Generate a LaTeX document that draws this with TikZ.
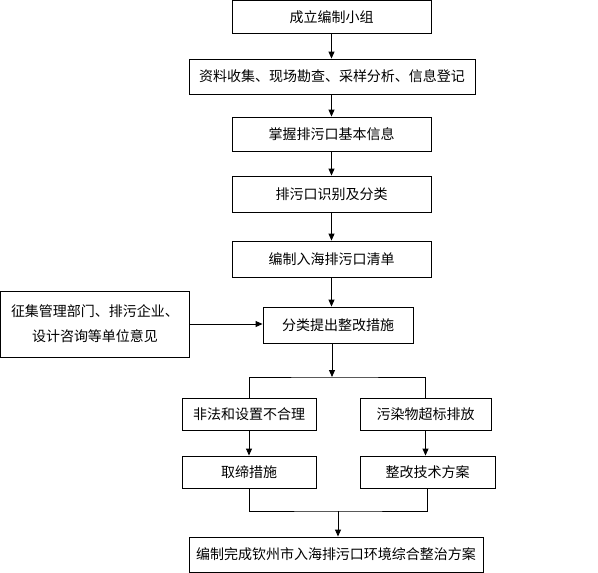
\documentclass[tikz,border=0pt]{standalone}
\usepackage{fontspec}
\usepackage{tikz}
\usetikzlibrary{arrows.meta, positioning}
\newfontfamily\cjk{Noto Sans CJK SC}

\begin{document}
\begin{tikzpicture}[
    x=1pt, y=-1pt,
    box/.style={draw, line width=0.9pt, minimum height=34pt, inner sep=0pt, font=\cjk\fontsize{14}{17}\selectfont},
    mainbox/.style={box, minimum width=199pt},
    sidebox/.style={box, minimum width=134pt, minimum height=32pt},
    flow/.style={line width=0.9pt, -{Triangle[length=7pt, width=6pt]}},
    link/.style={line width=0.9pt}
]
\useasboundingbox (0,0) rectangle (598,573);

% Main column
\node[mainbox, minimum height=33pt] (team) at (331.5,17) {成立编制小组};
\node[box, minimum width=286pt, minimum height=35pt] (survey) at (332,76.5) {资料收集、现场勘查、采样分析、信息登记};
\node[mainbox] (info) at (331.5,134) {掌握排污口基本信息};
\node[mainbox, minimum height=36pt] (classify) at (331.5,194) {排污口识别及分类};
\node[mainbox, minimum height=36pt] (list) at (331.5,259) {编制入海排污口清单};
\node[box, minimum width=150pt, minimum height=36pt] (measures) at (338,325) {分类提出整改措施};

% Opinions
\node[box, minimum width=189pt, minimum height=66pt, align=center,
      font=\cjk\fontsize{14}{25}\selectfont] (opinion) at (95,324)
      {征集管理部门、排污企业、\\设计咨询等单位意见};

% Two branches
\node[sidebox] (illegal) at (249,414) {非法和设置不合理};
\node[sidebox, minimum width=131pt] (exceed) at (425.5,414) {污染物超标排放};
\node[sidebox] (ban) at (249,472) {取缔措施};
\node[sidebox, minimum width=135pt] (tech) at (427.5,472) {整改技术方案};

% Final plan
\node[box, minimum width=294pt, minimum height=35pt] (plan) at (336,554.5) {编制完成钦州市入海排污口环境综合整治方案};

\coordinate (split) at (332,377);
\coordinate (merge) at (338,511);

% Connectors
\draw[flow] (team.south) -- (team.south |- survey.north);
\draw[flow] (survey.south -| team.south) -- (team.south |- info.north);
\draw[flow] (info.south) -- (info.south |- classify.north);
\draw[flow] (classify.south) -- (classify.south |- list.north);
\draw[flow] (list.south) -- (list.south |- measures.north);
\draw[flow] (opinion) -- (opinion -| measures.west);
\draw[flow] (measures.south -| split) -- (split);
\draw[link] (illegal.north) |- (split) -| (exceed.north);
\draw[flow] (illegal.south) -- (ban.north);
\draw[flow] (exceed.south) -- (exceed.south |- tech.north);
\draw[link] (ban.south) |- (merge) -| (tech.south);
\draw[flow] (merge) -- (merge |- plan.north);

\end{tikzpicture}
\end{document}
